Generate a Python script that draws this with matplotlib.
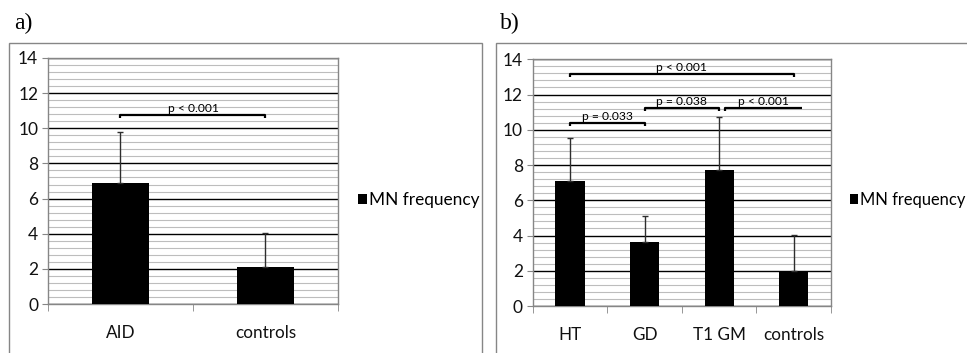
import numpy as np
import matplotlib.pyplot as plt
from matplotlib.patches import Rectangle
from matplotlib.ticker import MultipleLocator

plt.rcParams['font.family'] = ['Lato', 'DejaVu Sans']

# panel a
cats_a = ['AID', 'controls']
mn_a = [6.87, 2.09]
sd_a = [2.93, 1.97]
# (from, to, level, label, right tick)
comp_a = [(0.0, 1.0, 10.76, 'p < 0.001', True)]

# panel b
cats_b = ['HT', 'GD', 'T1 GM', 'controls']
mn_b = [7.09, 3.61, 7.72, 2.0]
sd_b = [2.43, 1.52, 2.99, 2.01]
comp_b = [(0.0, 3.0, 13.17, 'p < 0.001', True),
          (0.0, 1.0, 10.37, 'p = 0.033', True),
          (1.0, 2.0, 11.22, 'p = 0.038', True),
          (2.08, 3.11, 11.22, 'p < 0.001', False)]

grey = '#868686'


def panel(ax, cats, vals, errs, comps, leg_x, leg_y, leg_fs):
    x = np.arange(len(cats))
    ax.set_xlim(-0.5, len(cats) - 0.5)
    ax.set_ylim(0, 14)
    ax.yaxis.set_major_locator(MultipleLocator(2))
    ax.yaxis.set_minor_locator(MultipleLocator(0.4))
    ax.grid(which='major', axis='y', color='black', lw=1.0, zorder=1)
    ax.grid(which='minor', axis='y', color='#bdbdbd', lw=0.8, zorder=0)
    ax.set_axisbelow(True)
    bars = ax.bar(x, vals, width=0.39, color='black', zorder=3, label='MN frequency')
    ax.errorbar(x, vals, yerr=[np.zeros(len(errs)), errs], fmt='none',
                ecolor='#2e2e2e', elinewidth=1, capsize=2.5, capthick=1, zorder=4)
    ax.set_xticks(x)
    ax.set_xticklabels(cats, fontsize=12.3, color='#111111')
    ax.set_xticks(np.arange(len(cats) + 1) - 0.5, minor=True)
    ax.tick_params(axis='x', which='major', length=0, pad=15)
    ax.tick_params(axis='x', which='minor', length=5, color=grey, direction='out')
    ax.tick_params(axis='y', which='major', length=4, color=grey, labelsize=12.5,
                   labelcolor='#111111', pad=3)
    ax.tick_params(axis='y', which='minor', length=0)
    for s in ax.spines.values():
        s.set_color(grey)
        s.set_linewidth(1)
    dh = 0.15
    for a, b, y, lab, rt in comps:
        xs = [a, a, b, b] if rt else [a, a, b]
        ys = [y - dh, y, y, y - dh] if rt else [y - dh, y, y]
        ax.plot(xs, ys, color='black', lw=1.6, zorder=5, solid_capstyle='butt')
        ax.text((a + b) / 2, y + 0.06, lab, ha='center', va='bottom', fontsize=8.7, zorder=6)
    ax.legend(handles=[bars], loc='center left', bbox_to_anchor=(leg_x, leg_y),
              frameon=False, fontsize=leg_fs, handlelength=0.5, handleheight=0.5,
              handletextpad=0.15, borderpad=0, borderaxespad=0)


fig = plt.figure(figsize=(9.67, 3.53), dpi=100)
ax1 = fig.add_axes([0.0496, 0.1388, 0.2999, 0.6969])
ax2 = fig.add_axes([0.5509, 0.1331, 0.3085, 0.6989])
panel(ax1, cats_a, mn_a, sd_a, comp_a, 1.07, 0.423, 12.4)
panel(ax2, cats_b, mn_b, sd_b, comp_b, 1.062, 0.43, 11.9)

W, H = 967, 353
for x0, x1 in [(9, 482), (496, 975)]:
    fig.patches.append(Rectangle((x0 / W, -0.05), (x1 - x0) / W, (H + 17.6 - 43) / H - 0.0,
                                 transform=fig.transFigure, fill=False,
                                 edgecolor=grey, lw=1))
fig.text(14 / W, 1 - 23 / H, 'a)', family='Liberation Serif', fontsize=17, va='center')
fig.text(500 / W, 1 - 23 / H, 'b)', family='Liberation Serif', fontsize=17, va='center')

fig.savefig('out.png', dpi=100)
